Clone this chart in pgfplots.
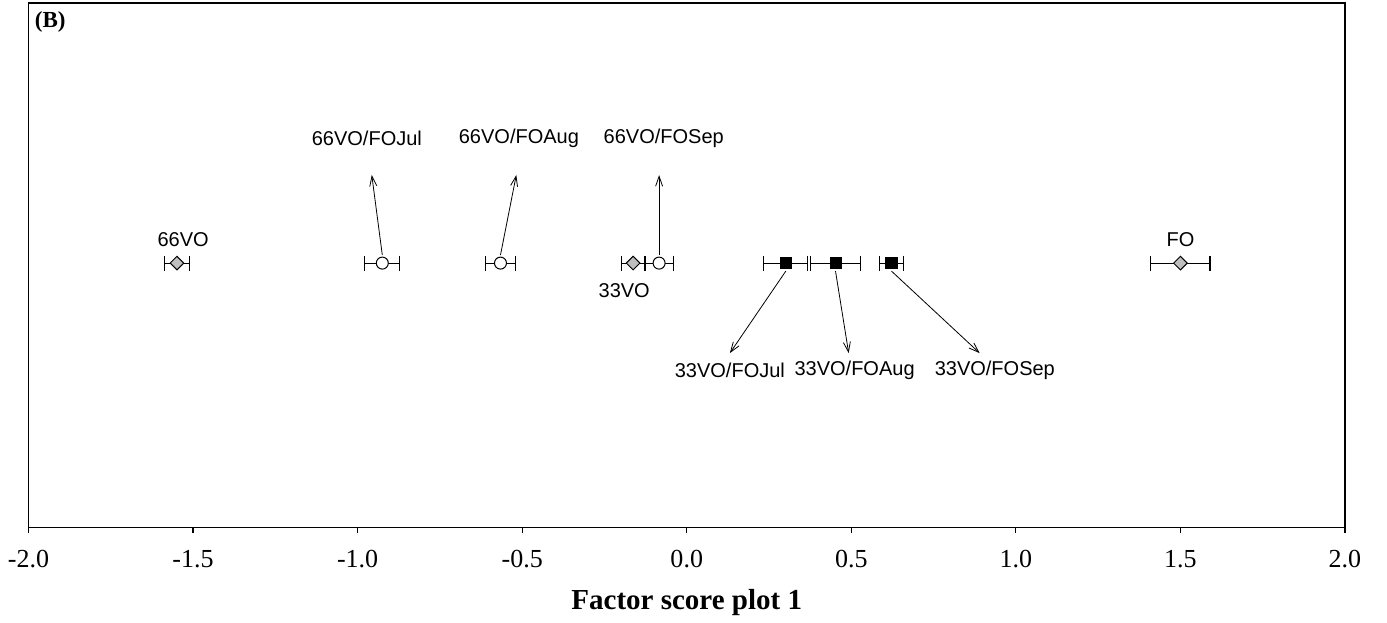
\documentclass[border=0pt]{standalone}
\usepackage{pgfplots}
\pgfplotsset{compat=1.18}
\usepackage{fontspec}
\setmainfont{Liberation Serif}
\newfontfamily\arial{Liberation Sans}
\usetikzlibrary{arrows.meta}
\begin{document}
\begin{tikzpicture}
\begin{axis}[
  scale only axis,
  width=658pt, height=262pt,
  xmin=-2, xmax=2, ymin=0, ymax=524,
  xtick={-2,-1.5,-1,-0.5,0,0.5,1,1.5,2},
  xticklabels={-2.0,-1.5,-1.0,-0.5,0.0,0.5,1.0,1.5,2.0},
  ytick=\empty,
  xtick pos=bottom,
  tick align=outside,
  major tick length=3pt,
  axis line style={line width=0.6pt},
  every tick/.style={black, line width=0.6pt},
  xticklabel style={font=\fontsize{13}{15}\selectfont, yshift=-5pt},
  xlabel={\textbf{Factor score plot 1}},
  xlabel style={font=\fontsize{14.5}{16}\selectfont, yshift=-4pt},
  clip=false,
]
% grey diamonds: 66VO, 33VO, FO
\addplot[only marks, mark=square*, mark size=2.4pt,
  mark options={rotate=45, fill=black!25, draw=black, line width=0.5pt},
  error bars/.cd, x dir=both, x explicit, error mark=|,
  error bar style={black, line width=0.6pt},
  error mark options={black, mark size=3.75pt, line width=0.6pt}]
  coordinates {
   (-1.549,264) +- (0.037,0)
   (-0.163,264) +- (0.035,0)
   (1.50,264) +- (0.09,0)
  };
% open circles: 66VO/FO
\addplot[only marks, mark=*, mark size=3pt,
  mark options={fill=white, draw=black, line width=0.5pt},
  error bars/.cd, x dir=both, x explicit, error mark=|,
  error bar style={black, line width=0.6pt},
  error mark options={black, mark size=3.75pt, line width=0.6pt}]
  coordinates {
   (-0.925,264) +- (0.053,0)
   (-0.566,264) +- (0.046,0)
   (-0.084,264) +- (0.043,0)
  };
% filled squares: 33VO/FO
\addplot[only marks, mark=square*, mark size=2.8pt,
  mark options={fill=black, draw=black},
  error bars/.cd, x dir=both, x explicit, error mark=|,
  error bar style={black, line width=0.6pt},
  error mark options={black, mark size=3.75pt, line width=0.6pt}]
  coordinates {
   (0.301,264) +- (0.067,0)
   (0.452,264) +- (0.076,0)
   (0.622,264) +- (0.036,0)
  };
% arrows
\draw[-{Straight Barb[length=5pt,width=3.5pt]}, line width=0.4pt] (axis cs:-0.925,272) -- (axis cs:-0.957,352);
\draw[-{Straight Barb[length=5pt,width=3.5pt]}, line width=0.4pt] (axis cs:-0.566,272) -- (axis cs:-0.518,352);
\draw[-{Straight Barb[length=5pt,width=3.5pt]}, line width=0.4pt] (axis cs:-0.084,272) -- (axis cs:-0.084,352);
\draw[-{Straight Barb[length=5pt,width=3.5pt]}, line width=0.4pt] (axis cs:0.301,256) -- (axis cs:0.131,174);
\draw[-{Straight Barb[length=5pt,width=3.5pt]}, line width=0.4pt] (axis cs:0.452,256) -- (axis cs:0.492,174);
\draw[-{Straight Barb[length=5pt,width=3.5pt]}, line width=0.4pt] (axis cs:0.622,256) -- (axis cs:0.890,174);
% labels
\begin{scope}[every node/.style={font=\arial\fontsize{10}{12}\selectfont}]
\node at (axis cs:-0.972,389) {66VO/FOJul};
\node at (axis cs:-0.51,389) {66VO/FOAug};
\node at (axis cs:-0.07,389) {66VO/FOSep};
\node at (axis cs:0.131,157) {33VO/FOJul};
\node at (axis cs:0.51,157) {33VO/FOAug};
\node at (axis cs:0.936,157) {33VO/FOSep};
\node at (axis cs:-1.53,287) {66VO};
\node at (axis cs:1.50,287) {FO};
\node at (axis cs:-0.19,237) {33VO};
\end{scope}
\node[anchor=north west, font=\bfseries\fontsize{11.5}{13}\selectfont, inner sep=0pt] at ([xshift=3pt,yshift=-4pt]rel axis cs:0,1) {(B)};
\path ([xshift=-14.25pt,yshift=1.5pt]rel axis cs:0,1) (rel axis cs:1,0) ++(21pt,-46pt);
\end{axis}
\end{tikzpicture}
\end{document}
